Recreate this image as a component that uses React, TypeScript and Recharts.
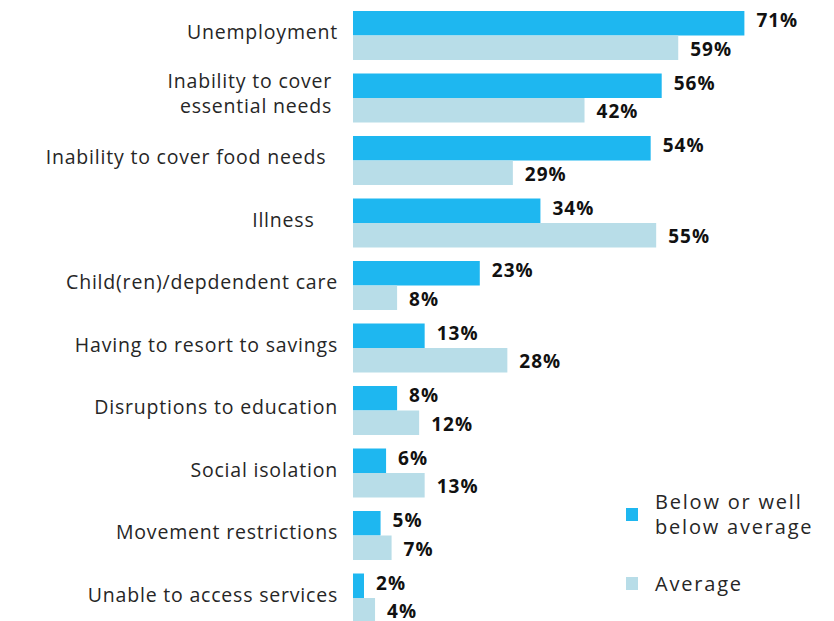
import { BarChart, Bar, XAxis, YAxis, Legend, LabelList } from "recharts";

// category labels keep the trailing spaces of the source sheet
const CATEGORIES = [
  "Unemployment",
  "Inability to cover \nessential needs ",
  "Inability to cover food needs  ",
  "Illness    ",
  "Child(ren)/depdendent care",
  "Having to resort to savings",
  "Disruptions to education",
  "Social isolation",
  "Movement restrictions",
  "Unable to access services",
];

const BELOW_AVERAGE = [71, 56, 54, 34, 23, 13, 8, 6, 5, 2];
const AVERAGE = [59, 42, 29, 55, 8, 28, 12, 13, 7, 4];

const SERIES_NAMES = ["Below or well\nbelow average", "Average"];

const DARK = "#1EB7F0";
const LIGHT = "#B8DDE8";
const FONT = "'Open Sans', sans-serif";

const data = CATEGORIES.map((name, i) => ({
  name,
  below: BELOW_AVERAGE[i],
  avg: AVERAGE[i],
}));

function CategoryTick({ x, y, payload }: any) {
  const lines = String(payload.value).split("\n");
  const first = lines.length > 1 ? -10 : 4;
  return (
    <text
      x={x}
      y={y}
      textAnchor="end"
      fill="#262626"
      fontSize={19.5}
      fontFamily={FONT}
      letterSpacing={0.8}
      style={{ whiteSpace: "pre" }}
    >
      {lines.map((line, i) => (
        <tspan key={i} x={x} dy={i === 0 ? first : 25.5}>
          {line}
        </tspan>
      ))}
    </text>
  );
}

function valueLabel(shift: number) {
  return (props: any) => {
    const { x, y, width, height, value } = props;
    return (
      <text
        x={x + width + 12}
        y={y + height / 2 + shift}
        fill="#111"
        fontSize={19}
        fontWeight="bold"
        fontFamily={FONT}
        letterSpacing={1}
      >
        {value}%
      </text>
    );
  };
}

function LegendBox({ payload }: any) {
  return (
    <div style={{ fontFamily: FONT, fontSize: 20, letterSpacing: 1.8, color: "#262626" }}>
      {(payload || []).map((entry: any, i: number) => (
        <div
          key={i}
          style={{
            display: "flex",
            alignItems: "center",
            marginBottom: i === 0 ? 32 : 0,
          }}
        >
          <span
            style={{
              width: 12,
              height: 13,
              marginLeft: 5,
              marginRight: 17,
              background: entry.color,
              flex: "none",
            }}
          />
          <div style={{ lineHeight: "25px", whiteSpace: "pre" }}>{entry.value}</div>
        </div>
      ))}
    </div>
  );
}

export default function App() {
  return (
    <div style={{ position: "absolute", left: 0, top: 0, width: 834, height: 621, overflow: "hidden", background: "#fff" }}>
      <BarChart
        width={834}
        height={640}
        data={data}
        layout="vertical"
        barGap={0}
        barSize={24.5}
        margin={{ top: 4, right: 40, bottom: 11, left: 0 }}
      >
        <XAxis type="number" domain={[0, 80]} hide />
        <YAxis
          type="category"
          dataKey="name"
          width={353}
          interval={0}
          tickLine={false}
          axisLine={false}
          tickSize={0}
          tickMargin={15}
          tick={<CategoryTick />}
        />
        <Legend
          layout="horizontal"
          verticalAlign="middle"
          itemSorter={(item: any) => (item.dataKey === "below" ? 0 : 1)}
          content={<LegendBox />}
          wrapperStyle={{ position: "absolute", left: 621, top: 489, width: 213 }}
        />
        <Bar dataKey="below" name={SERIES_NAMES[0]} fill={DARK} isAnimationActive={false}>
          <LabelList dataKey="below" content={valueLabel(4)} />
        </Bar>
        <Bar dataKey="avg" name={SERIES_NAMES[1]} fill={LIGHT} isAnimationActive={false}>
          <LabelList dataKey="avg" content={valueLabel(8)} />
        </Bar>
      </BarChart>
    </div>
  );
}
